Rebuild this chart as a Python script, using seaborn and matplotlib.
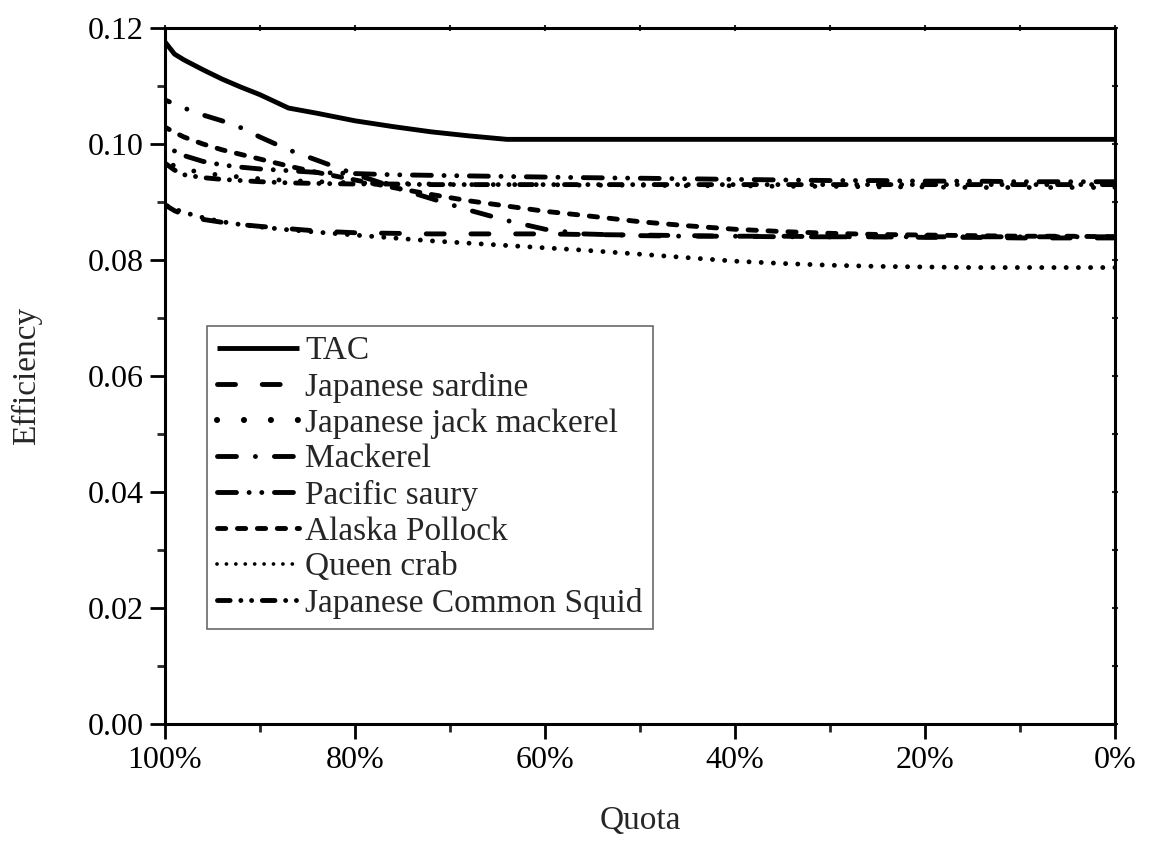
import matplotlib
matplotlib.use("Agg")
import matplotlib.pyplot as plt
import seaborn as sns
import pandas as pd
import numpy as np
from matplotlib.ticker import MultipleLocator, FixedLocator

quota = [100, 99, 98, 96, 94, 92, 90, 87, 84, 80, 76, 72, 68, 64, 60, 56, 50, 45, 40, 35, 30, 25, 20, 15, 10, 5, 0]

tac = [0.1176, 0.1155, 0.1145, 0.1128, 0.1112, 0.1098, 0.1085, 0.1062, 0.1053, 0.1040, 0.1030, 0.1021, 0.1014, 0.1008,
       0.1008, 0.1008, 0.1008, 0.1008, 0.1008, 0.1008, 0.1008, 0.1008, 0.1008, 0.1008, 0.1008, 0.1008, 0.1008]
japanese_sardine = [0.0895, 0.0885, 0.0878, 0.0870, 0.0865, 0.0861, 0.0858, 0.0854, 0.0850, 0.0847, 0.0846, 0.0845, 0.0845, 0.0845,
                    0.0845, 0.0844, 0.0843, 0.0842, 0.0841, 0.0841, 0.0840, 0.0840, 0.0839, 0.0839, 0.0838, 0.0838, 0.0838]
jack_mackerel = [0.0972, 0.0962, 0.0957, 0.0950, 0.0946, 0.0943, 0.0940, 0.0937, 0.0935, 0.0933, 0.0932, 0.0931, 0.0930, 0.0930,
                 0.0930, 0.0929, 0.0929, 0.0928, 0.0928, 0.0927, 0.0927, 0.0926, 0.0926, 0.0925, 0.0925, 0.0925, 0.0925]
mackerel = [0.1076, 0.1069, 0.1062, 0.1050, 0.1040, 0.1028, 0.1012, 0.0990, 0.0972, 0.0948, 0.0926, 0.0906, 0.0886, 0.0868,
            0.0853, 0.0845, 0.0842, 0.0841, 0.0841, 0.0840, 0.0840, 0.0840, 0.0840, 0.0840, 0.0840, 0.0840, 0.0840]
pacific_saury = [0.1002, 0.0988, 0.0980, 0.0970, 0.0964, 0.0960, 0.0957, 0.0954, 0.0951, 0.0949, 0.0947, 0.0946, 0.0945, 0.0944,
                 0.0943, 0.0942, 0.0941, 0.0940, 0.0939, 0.0938, 0.0937, 0.0937, 0.0936, 0.0936, 0.0935, 0.0935, 0.0935]
alaska_pollock = [0.1029, 0.1020, 0.1012, 0.1000, 0.0990, 0.0982, 0.0974, 0.0962, 0.0951, 0.0938, 0.0925, 0.0913, 0.0902, 0.0893,
                  0.0884, 0.0877, 0.0866, 0.0859, 0.0853, 0.0849, 0.0846, 0.0844, 0.0843, 0.0842, 0.0841, 0.0841, 0.0840]
queen_crab = [0.0895, 0.0888, 0.0882, 0.0873, 0.0866, 0.0861, 0.0857, 0.0852, 0.0848, 0.0843, 0.0838, 0.0833, 0.0829, 0.0825,
              0.0821, 0.0817, 0.0810, 0.0804, 0.0798, 0.0794, 0.0791, 0.0789, 0.0788, 0.0787, 0.0787, 0.0787, 0.0787]
common_squid = [0.0967, 0.0955, 0.0947, 0.0942, 0.0939, 0.0937, 0.0935, 0.0933, 0.0932, 0.0931, 0.0931, 0.0930, 0.0930, 0.0930,
                0.0930, 0.0930, 0.0930, 0.0930, 0.0930, 0.0930, 0.0930, 0.0930, 0.0930, 0.0930, 0.0930, 0.0930, 0.0930]

series_names = ["TAC", "Japanese sardine", "Japanese jack mackerel", "Mackerel", "Pacific saury",
                "Alaska Pollock", "Queen crab", "Japanese Common Squid"]
series_values = [tac, japanese_sardine, jack_mackerel, mackerel, pacific_saury,
                 alaska_pollock, queen_crab, common_squid]

x_ticks = [100, 80, 60, 40, 20, 0]
x_ticklabels = ["100%", "80%", "60%", "40%", "20%", "0%"]
y_ticks = [0.00, 0.02, 0.04, 0.06, 0.08, 0.10, 0.12]

dash_styles = {
    "TAC": "",
    "Japanese sardine": (3.7, 5.5),
    "Japanese jack mackerel": (0.01, 4.4),
    "Mackerel": (3.9, 3.9, 0.01, 3.9),
    "Pacific saury": (3.9, 2.6, 0.01, 2.6, 0.01, 2.6),
    "Alaska Pollock": (1.7, 2.4),
    "Queen crab": (0.01, 2.5),
    "Japanese Common Squid": (2.6, 2.2, 0.01, 2.2, 0.01, 2.2),
}
line_widths = {"Japanese jack mackerel": 4.4, "Queen crab": 2.7}

df = pd.DataFrame({
    "Quota": np.tile(quota, len(series_names)),
    "Efficiency": np.concatenate(series_values),
    "Series": np.repeat(series_names, len(quota)),
})

sns.set_style("ticks")
plt.rcParams["font.family"] = ["Liberation Serif", "DejaVu Serif"]
for k in ["xtick.major.width", "ytick.major.width", "xtick.minor.width", "ytick.minor.width"]:
    plt.rcParams[k] = 2.0

fig = plt.figure(figsize=(11.54, 8.44), dpi=100)
ax = fig.add_axes([165 / 1154, 1 - 724 / 844, (1115 - 165) / 1154, (724 - 28) / 844])

sns.lineplot(data=df, x="Quota", y="Efficiency", hue="Series", style="Series",
             hue_order=series_names, style_order=series_names,
             palette=["black"] * len(series_names), dashes=dash_styles,
             linewidth=3.5, ax=ax, legend="full")

def restyle(line):
    line.set_dash_capstyle("round")
    line.set_solid_capstyle("butt")
    lbl = line.get_label()
    if lbl in line_widths:
        line.set_linewidth(line_widths[lbl])
        line.set_dashes(dash_styles[lbl])

for line in ax.get_lines():
    restyle(line)

ax.set_xlim(100, 0)
ax.set_ylim(0, 0.12)
ax.xaxis.set_major_locator(FixedLocator(x_ticks))
ax.set_xticklabels(x_ticklabels)
ax.xaxis.set_minor_locator(MultipleLocator(10))
ax.yaxis.set_major_locator(FixedLocator(y_ticks))
ax.set_yticklabels([f"{v:.2f}" for v in y_ticks])
ax.yaxis.set_minor_locator(MultipleLocator(0.01))

for side in ["left", "right", "top", "bottom"]:
    ax.spines[side].set_visible(True)
    ax.spines[side].set_linewidth(2.2)
    ax.spines[side].set_color("black")

ax.tick_params(which="major", direction="out", length=10.5, labelsize=23, pad=5, colors="black")
ax.tick_params(which="minor", direction="out", length=5.5)

secx = ax.secondary_xaxis("top")
secx.set_xticks(list(range(0, 101, 10)))
secx.tick_params(direction="inout", length=4, width=1.5, labeltop=False)
secx.spines["top"].set_visible(False)
secy = ax.secondary_yaxis("right")
secy.set_yticks([i / 100 for i in range(0, 13)])
secy.tick_params(direction="inout", length=4, width=1.5, labelright=False)
secy.spines["right"].set_visible(False)

ax.set_xlabel("Quota", fontsize=24, labelpad=22)
ax.set_ylabel("Efficiency", fontsize=24, labelpad=33)

handles, labels = ax.get_legend_handles_labels()
for h in handles:
    restyle(h)
leg = ax.legend(handles, labels, loc="upper left", bbox_to_anchor=(0.0442, 0.572),
                borderaxespad=0, fontsize=24, handlelength=2.45, handletextpad=0.2,
                labelspacing=0.16, borderpad=0.3, frameon=True, fancybox=False)
leg.get_frame().set_edgecolor("#444444")
leg.get_frame().set_linewidth(1.2)

fig.savefig("out.png", dpi=100)
